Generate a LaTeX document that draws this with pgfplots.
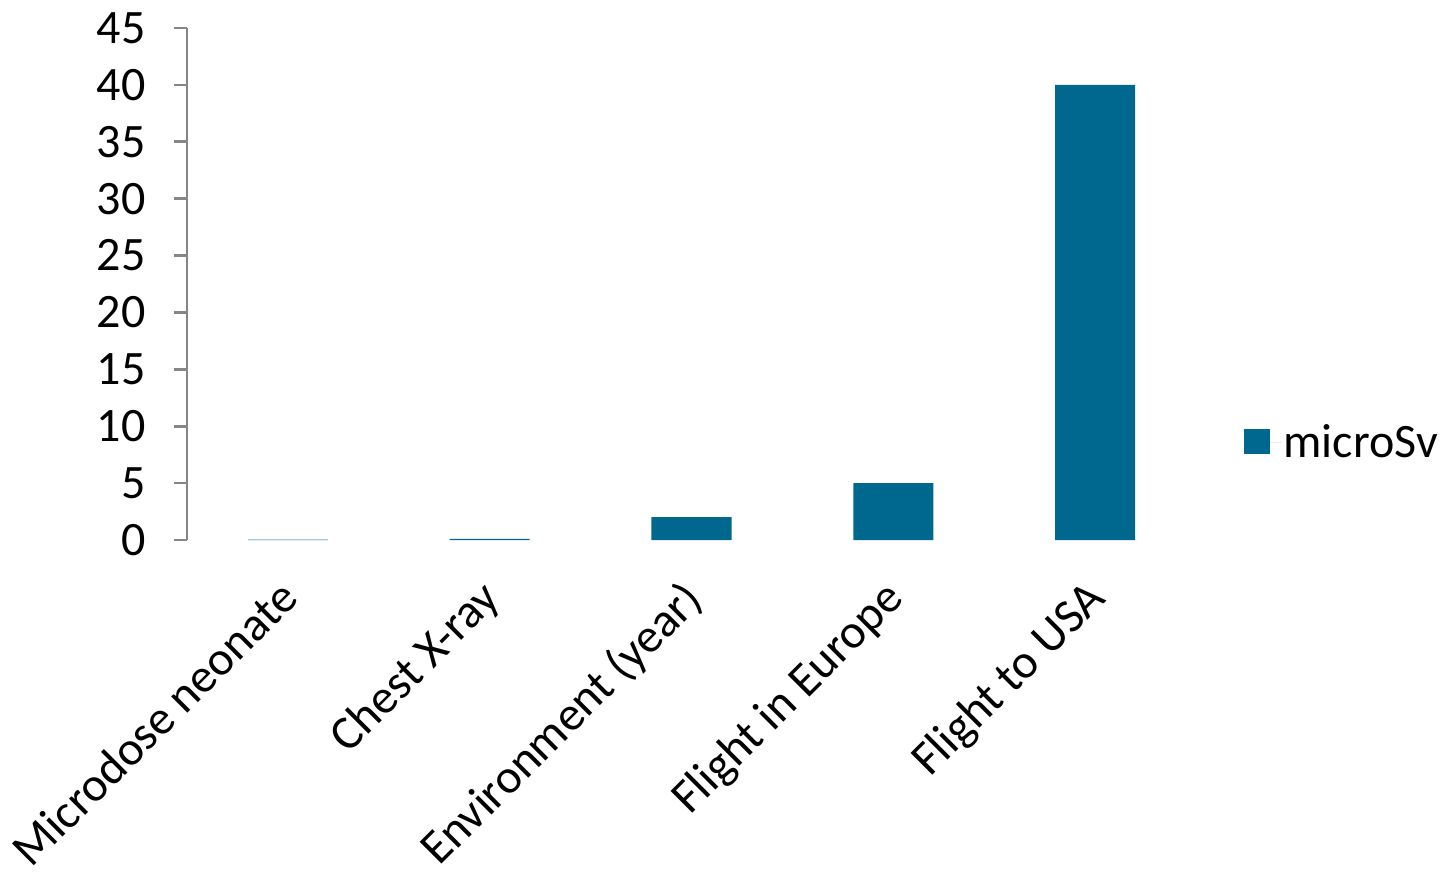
\documentclass[border=0pt]{standalone}
\usepackage{pgfplots}
\pgfplotsset{compat=1.18}
\usepackage{fontspec}
\setmainfont{Carlito}
\definecolor{barblue}{RGB}{0,104,143}
\definecolor{axgray}{RGB}{134,134,134}
\begin{document}
\begin{tikzpicture}
\begin{axis}[
  scale only axis,
  width=1009pt, height=512pt,
  ymin=0, ymax=45,
  xmin=-0.5, xmax=4.5,
  ytick={0,5,...,45},
  xtick={0,1,2,3,4},
  xticklabels={Microdose neonate,Chest X-ray,Environment (year),Flight in Europe,Flight to USA},
  axis x line*=bottom,
  axis y line*=left,
  x axis line style={draw=none},
  y axis line style={draw=axgray, line width=2.6pt, -},
  ytick style={draw=axgray, line width=2.6pt},
  xtick style={draw=none},
  tick align=outside,
  major tick length=13pt,
  tick label style={font=\fontsize{48}{56}\selectfont},
  yticklabel style={xshift=-25pt},
  xticklabel style={rotate=45, anchor=north east, xshift=-21.5pt, yshift=-5.5pt, font=\fontsize{48}{56}\selectfont},
  /pgf/number format/assume math mode=true,
  ybar, bar width=80pt,
  legend style={draw=none, at={(1.044,0.191)}, anchor=west, font=\fontsize{48}{56}\selectfont, /tikz/every even column/.append style={column sep=0pt}},
  legend cell align=left,
]
\addplot[fill=barblue, draw=none, legend image code/.code={\fill[barblue] (0pt,-12pt) rectangle (26pt,13pt); \path (26pt,0pt) -- (38pt,0pt);}] coordinates {(0,0.03) (1,0.1) (2,2) (3,5) (4,40)};
\addlegendentry{microSv}
\coordinate (bl) at (rel axis cs:0,0);
\end{axis}
\pgfresetboundingbox
\path ([shift={(-187pt,-332pt)}]bl) rectangle ([shift={(1260pt,540pt)}]bl);
\end{tikzpicture}
\end{document}
